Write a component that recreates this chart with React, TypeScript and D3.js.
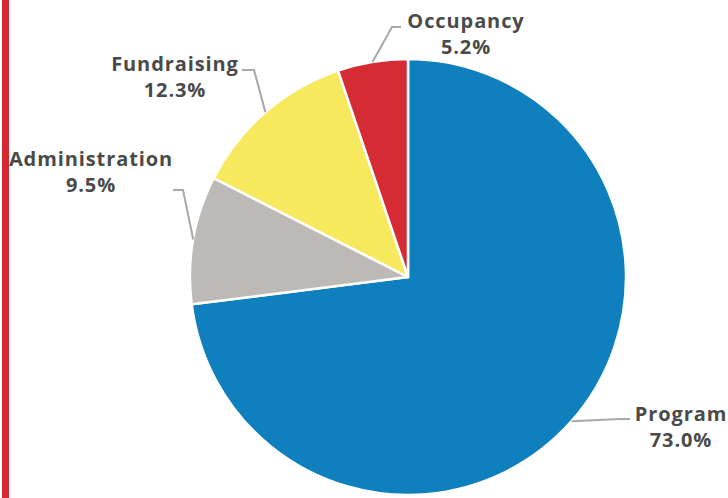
import React from "react";
import * as d3 from "d3";

const categories = ["Program", "Administration", "Fundraising", "Occupancy"];
const values = [73.0, 9.5, 12.3, 5.2];
const colors = ["#0f80bd", "#bdb9b7", "#f6e95e", "#d52b34"];
const labelText = ["73.0%", "9.5%", "12.3%", "5.2%"];
// label layout: elbow point, end point of leader, label center and first baseline
const labelLayout = [
  { elbow: [620, 419], end: [630, 419], tx: 681, ty: 421 },
  { elbow: [183, 190], end: [173, 190], tx: 91, ty: 166 },
  { elbow: [254, 70], end: [242, 70], tx: 175, ty: 71 },
  { elbow: [392, 27], end: [401, 27], tx: 466, ty: 28 },
];

export default function App() {
  const W = 728, H = 498;
  const cx = 408, cy = 277, r = 218;
  const pie = d3.pie<number>().sort(null).value((d) => d);
  const arcs = pie(values);
  const arc = d3.arc<d3.PieArcDatum<number>>().innerRadius(0).outerRadius(r);
  const font = {
    fontFamily: "'Open Sans'",
    fontWeight: 700,
    fontSize: 20,
    fill: "#4a4a4a",
    letterSpacing: 0.9,
  } as const;
  return (
    <svg width={W} height={H} style={{ position: "absolute", left: 0, top: 0 }}>
      <rect x={0} y={0} width={W} height={H} fill="#fff" />
      <rect x={2} y={0} width={7} height={H} fill="#d7282f" />
      <g transform={`translate(${cx},${cy})`}>
        {arcs.map((a, i) => (
          <path key={i} d={arc(a) || ""} fill={colors[i]} stroke="#fff" strokeWidth={2.5} strokeLinejoin="round" />
        ))}
      </g>
      {arcs.map((a, i) => {
        const mid = (a.startAngle + a.endAngle) / 2;
        const sx = cx + r * Math.sin(mid);
        const sy = cy - r * Math.cos(mid);
        const L = labelLayout[i];
        return (
          <g key={i}>
            <polyline
              points={`${sx},${sy} ${L.elbow[0]},${L.elbow[1]} ${L.end[0]},${L.end[1]}`}
              fill="none"
              stroke="#a8a8a8"
              strokeWidth={2}
            />
            <text x={L.tx} y={L.ty} textAnchor="middle" {...font}>
              {categories[i]}
            </text>
            <text x={L.tx} y={L.ty + 26} textAnchor="middle" {...font}>
              {labelText[i]}
            </text>
          </g>
        );
      })}
    </svg>
  );
}
